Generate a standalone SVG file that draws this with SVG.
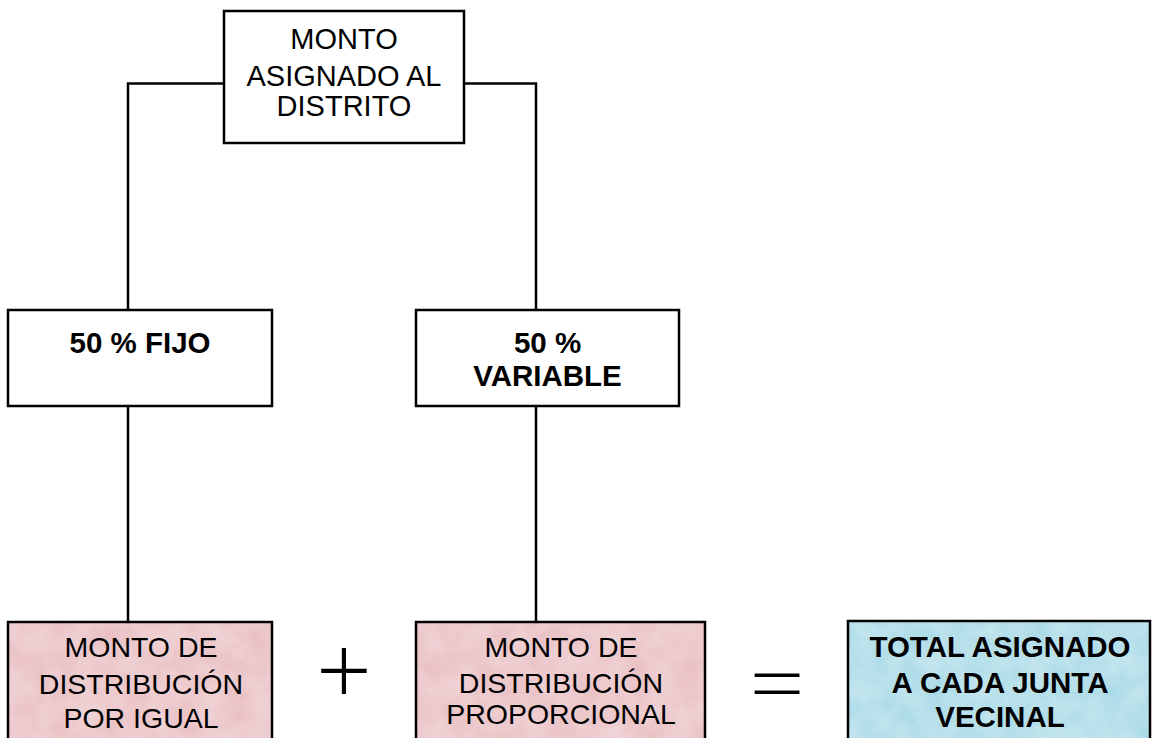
<svg xmlns="http://www.w3.org/2000/svg" width="1159" height="738" viewBox="0 0 1159 738">
  <defs>
    <filter id="tex" x="0" y="0" width="100%" height="100%">
      <feTurbulence type="fractalNoise" baseFrequency="0.04" numOctaves="3" seed="3" result="n"/>
      <feColorMatrix in="n" type="matrix" values="0 0 0 0 1  0 0 0 0 1  0 0 0 0 1  0 0 0 0.35 0" result="w"/>
      <feComposite in="w" in2="SourceGraphic" operator="atop"/>
    </filter>
  </defs>
  <style>
    .box { fill: #ffffff; stroke: #000000; stroke-width: 2.5; }
    .frame { fill: none; stroke: #000000; stroke-width: 2.5; }
    .pink { fill: #e8bcc0; stroke: none; }
    .blue { fill: #a3d9e6; stroke: none; }
    .line { fill: none; stroke: #000000; stroke-width: 2.5; }
    text { font-family: "Liberation Sans", Arial, sans-serif; font-size: 28.5px; fill: #000000; text-anchor: middle; }
    .t { font-size: 29px; }
    .b { font-weight: bold; font-size: 29.5px; }
    .op { font-family: "Open Sans", "Liberation Sans", sans-serif; font-weight: 300; }
    .plus { font-size: 98px; }
    .eq { font-size: 82px; }
  </style>
  <rect width="1159" height="738" fill="#ffffff"/>
  <g id="connectors">
    <polyline class="line" points="224,83.5 128,83.5 128,310"/>
    <polyline class="line" points="464,83.5 536,83.5 536,310"/>
    <line class="line" x1="128" y1="406" x2="128" y2="622"/>
    <line class="line" x1="536" y1="406" x2="536" y2="622"/>
  </g>
  <g id="monto-asignado">
    <rect class="box" x="224" y="11" width="240" height="132"/>
    <text class="t" x="344" y="49">MONTO</text>
    <text class="t" x="344" y="86">ASIGNADO AL</text>
    <text class="t" x="344" y="116">DISTRITO</text>
  </g>
  <g id="fijo">
    <rect class="box" x="8" y="310" width="264" height="96"/>
    <text class="b" x="140" y="353">50 % FIJO</text>
  </g>
  <g id="variable">
    <rect class="box" x="416" y="310" width="263" height="96"/>
    <text class="b" x="547.5" y="353">50 %</text>
    <text class="b" x="547.5" y="386">VARIABLE</text>
  </g>
  <g id="por-igual">
    <rect class="pink" x="8" y="622" width="264" height="130" filter="url(#tex)"/>
    <rect class="frame" x="8" y="622" width="264" height="130"/>
    <text x="141" y="657">MONTO DE</text>
    <text x="141" y="694">DISTRIBUCIÓN</text>
    <text x="141" y="728">POR IGUAL</text>
  </g>
  <g id="plus">
    <text class="op plus" x="344" y="705">+</text>
  </g>
  <g id="proporcional">
    <rect class="pink" x="416" y="622" width="289" height="130" filter="url(#tex)"/>
    <rect class="frame" x="416" y="622" width="289" height="130"/>
    <text x="561" y="657">MONTO DE</text>
    <text x="561" y="693">DISTRIBUCIÓN</text>
    <text x="561" y="724">PROPORCIONAL</text>
  </g>
  <g id="equals">
    <text class="op eq" x="777" y="713" transform="translate(777,0) scale(1.19,1) translate(-777,0)">=</text>
  </g>
  <g id="total">
    <rect class="blue" x="848" y="621" width="302" height="130" filter="url(#tex)"/>
    <rect class="frame" x="848" y="621" width="302" height="130"/>
    <text class="b" x="1000" y="657">TOTAL ASIGNADO</text>
    <text class="b" x="1000" y="693">A CADA JUNTA</text>
    <text class="b" x="1000" y="727">VECINAL</text>
  </g>
</svg>
